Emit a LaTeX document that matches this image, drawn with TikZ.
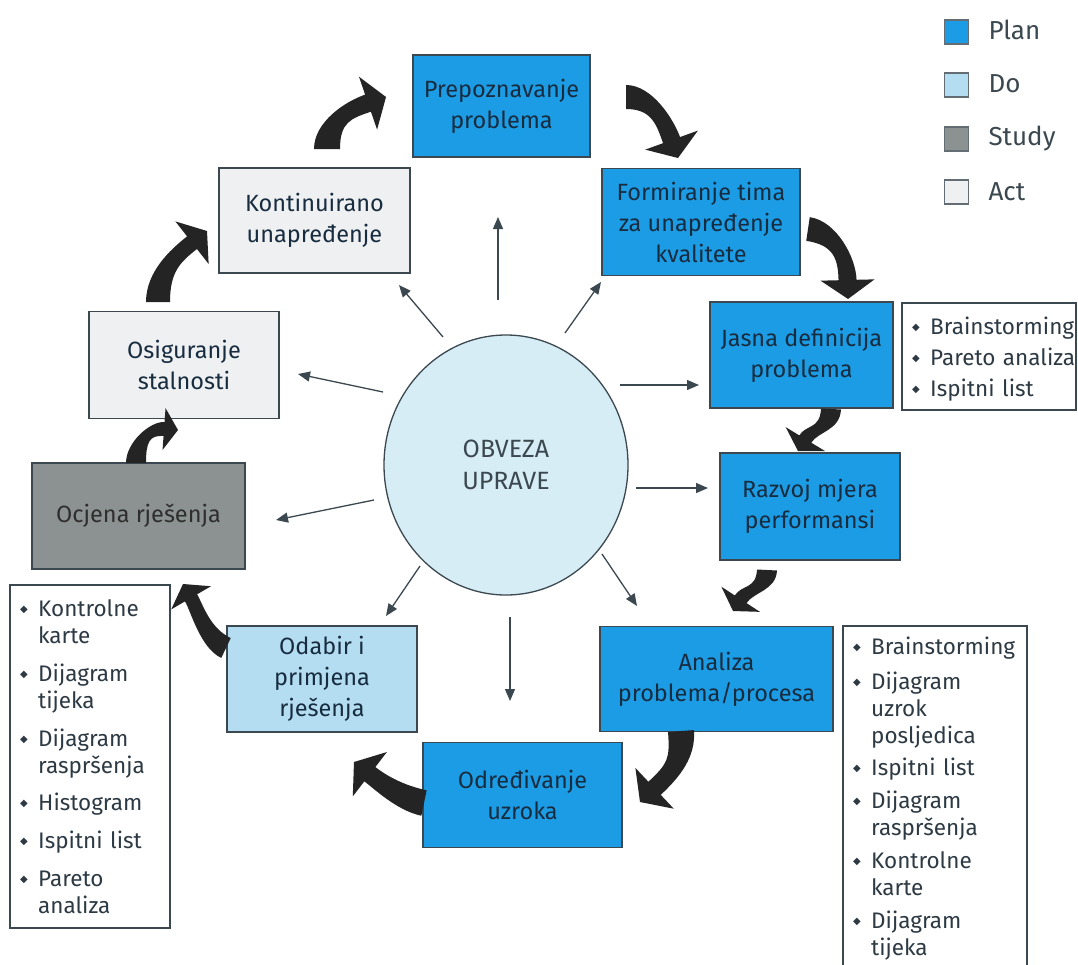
\documentclass[tikz,border=0pt]{standalone}
\usepackage{fontspec}
\setmainfont{Fira Sans}
\newfontfamily\dejavu{DejaVu Sans}
\usetikzlibrary{arrows.meta,shapes.geometric,calc}
\definecolor{planc}{RGB}{28,156,228}
\definecolor{doc}{RGB}{180,221,241}
\definecolor{studyc}{RGB}{140,145,145}
\definecolor{actc}{RGB}{238,240,242}
\definecolor{ellc}{RGB}{214,237,246}
\definecolor{bordc}{RGB}{60,72,80}
\definecolor{txtc}{RGB}{24,44,64}
\definecolor{thickc}{RGB}{36,36,36}
\definecolor{listtxt}{RGB}{45,58,68}
\newcommand{\litem}[1]{\par\noindent\hangindent=18pt\hangafter=1\makebox[18pt][l]{\raisebox{4pt}{\dejavu\fontsize{10}{10}\selectfont ◆}}#1\par}
% tapered thick arrow: #1 start, #2 ctrl1, #3 ctrl2, #4 tip, #5 half base width, #6 half end width, #7 half head width, #8 head length
\newcommand{\tarrow}[8]{%
 \coordinate (tH) at ($(#4)!#8!(#3)$);
 \coordinate (tSl) at ($(#1)!#5!90:(#2)$);
 \coordinate (tSr) at ($(#1)!#5!-90:(#2)$);
 \coordinate (tHl) at ($(tH)!#6!-90:(#3)$);
 \coordinate (tHr) at ($(tH)!#6!90:(#3)$);
 \coordinate (tWl) at ($(tH)!#7!-90:(#3)$);
 \coordinate (tWr) at ($(tH)!#7!90:(#3)$);
 \fill[thickc] (tSl) .. controls ($(#2)+(tSl)-(#1)$) and ($(#3)+(tHl)-(tH)$) .. (tHl) -- (tWl) -- (#4) -- (tWr) -- (tHr) .. controls ($(#3)+(tHr)-(tH)$) and ($(#2)+(tSr)-(#1)$) .. (tSr) -- cycle;
}
\tikzset{
  stepbox/.style={draw=bordc, line width=1.2pt, text=txtc, align=center, font=\fontsize{23.5}{31}\selectfont, inner sep=0pt},
  plan/.style={stepbox, fill=planc},
  dobox/.style={stepbox, fill=doc},
  study/.style={stepbox, fill=studyc, text=black!82},
  act/.style={stepbox, fill=actc},
  legsq/.style={draw=bordc!80, line width=1.8pt, minimum size=24pt, inner sep=0pt},
  legtxt/.style={anchor=west, text=bordc, font=\fontsize{26}{28}\selectfont},
  thin/.style={draw=bordc, line width=1.3pt, -{Triangle[length=12pt,width=10pt]}},
  listbox/.style={draw=bordc, line width=1.2pt, inner sep=0pt},
  listtext/.style={anchor=north west, inner sep=0pt, text=listtxt, font=\fontsize{22.5}{27}\selectfont},
}
\begin{document}
\begin{tikzpicture}[x=1pt,y=-1pt]
\useasboundingbox[fill=white] (0,0) rectangle (1078,964);

% legend
\node[legsq, fill=planc] (lp) at (956.5,32) {};
\node[legsq, fill=doc] (ld) at (956.5,85) {};
\node[legsq, fill=studyc] (ls) at (956.5,139) {};
\node[legsq, fill=actc] (la) at (956.5,192) {};
\node[legtxt] (lpt) at (985,30) {Plan};
\node[legtxt] (ldt) at (985,84) {Do};
\node[legtxt] (lst) at (985,139) {Study};
\node[legtxt] (lat) at (985,192) {Act};

% central ellipse
\node[ellipse, draw=bordc, line width=1.3pt, fill=ellc, minimum width=244pt, minimum height=260pt, align=center, text=bordc, font=\fontsize{25}{32}\selectfont] (obv) at (506,465) {OBVEZA\\UPRAVE};

% step boxes
\node[plan, minimum width=177pt, minimum height=102pt] (prep) at (501.5,106) {Prepoznavanje\\problema};
\node[plan, minimum width=198pt, minimum height=107pt] (form) at (701,222) {Formiranje tima\\za unapređenje\\kvalitete};
\node[plan, minimum width=183pt, minimum height=106pt] (jasna) at (801.5,355) {Jasna definicija\\problema};
\node[plan, minimum width=180pt, minimum height=107pt] (razvoj) at (810,506.5) {Razvoj mjera\\performansi};
\node[plan, minimum width=233pt, minimum height=105pt] (anal) at (716.5,679) {Analiza\\problema/procesa};
\node[plan, minimum width=199pt, minimum height=105pt] (odred) at (522.5,795) {Određivanje\\uzroka};
\node[dobox, minimum width=190pt, minimum height=106pt] (odab) at (322,679) {Odabir i\\primjena\\rješenja};
\node[study, minimum width=213pt, minimum height=106pt] (ocj) at (138.5,516) {Ocjena rješenja};
\node[act, minimum width=190pt, minimum height=107pt] (osig) at (184,365) {Osiguranje\\stalnosti};
\node[act, minimum width=191pt, minimum height=105pt] (kont) at (314.5,220.5) {Kontinuirano\\unapređenje};

% list boxes
\node[listbox, minimum width=174pt, minimum height=107pt] (jlist) at (989,356.5) {};
\node[listtext, text width=165pt] (jlistt) at (912,307) {%
\litem{Brainstorming}\vspace{4pt}
\litem{Pareto analiza}\vspace{4pt}
\litem{Ispitni list}};

\node[listbox, minimum width=184pt, minimum height=370pt] (rlist) at (935,811) {};
\node[listtext, text width=165pt] (rlistt) at (853,627) {%
\litem{Brainstorming}\vspace{8pt}
\litem{Dijagram\newline uzrok\newline posljedica}\vspace{5pt}
\litem{Ispitni list}\vspace{6pt}
\litem{Dijagram\newline raspršenja}\vspace{6pt}
\litem{Kontrolne\newline karte}\vspace{6pt}
\litem{Dijagram\newline tijeka}};

\node[listbox, minimum width=160pt, minimum height=343pt] (llist) at (90,756.5) {};
\node[listtext, text width=150pt] (llistt) at (20,589) {%
\litem{Kontrolne\newline karte}\vspace{11pt}
\litem{Dijagram\newline tijeka}\vspace{11pt}
\litem{Dijagram\newline raspršenja}\vspace{10pt}
\litem{Histogram}\vspace{11pt}
\litem{Ispitni list}\vspace{11pt}
\litem{Pareto\newline analiza}};

% thin arrow endpoints
\coordinate (u0) at (498,300); \coordinate (u1) at (498,217);
\coordinate (ur0) at (565,333); \coordinate (ur1) at (601,282);
\coordinate (r10) at (620,385); \coordinate (r11) at (699,385);
\coordinate (r20) at (636,488); \coordinate (r21) at (708,488);
\coordinate (dr0) at (602,554); \coordinate (dr1) at (637,606);
\coordinate (d0) at (510,617); \coordinate (d1) at (510,701);
\coordinate (dl0) at (420,566); \coordinate (dl1) at (386,616);
\coordinate (l10) at (374,500); \coordinate (l11) at (276,520);
\coordinate (l20) at (383,392); \coordinate (l21) at (298,374);
\coordinate (ul0) at (443,337); \coordinate (ul1) at (399,285);
\foreach \a in {u,ur,r1,r2,dr,d,dl,l1,l2,ul}{\draw[thin] (\a0) -- (\a1);}

% thick curved (tapered) arrows
\coordinate (A0) at (327,149); \coordinate (A1) at (386,97);
\tarrow{A0}{327,122}{348,110}{A1}{13pt}{9pt}{28pt}{19pt}
\coordinate (B0) at (626,97); \coordinate (B1) at (678,158);
\tarrow{B0}{652,97}{665,122}{B1}{12pt}{9pt}{28pt}{19pt}
\coordinate (C0) at (808,229); \coordinate (C1) at (848,299);
\tarrow{C0}{835,233}{847,258}{C1}{12pt}{9pt}{27pt}{19pt}
\coordinate (D0) at (831,409); \coordinate (D1) at (798,451);
\tarrow{D0}{830,430}{812,428}{D1}{10pt}{7pt}{23pt}{14pt}
\coordinate (E0) at (767,570); \coordinate (E1) at (733,611);
\tarrow{E0}{766,590}{748,588}{E1}{10pt}{7pt}{23pt}{14pt}
\coordinate (F0) at (681,731); \coordinate (F1) at (640,802);
\tarrow{F0}{683,758}{674,770}{F1}{13pt}{9pt}{28pt}{20pt}
\coordinate (G0) at (424,803); \coordinate (G1) at (354,762);
\tarrow{G0}{400,798}{380,782}{G1}{13pt}{9pt}{28pt}{20pt}
\coordinate (H0) at (226,648); \coordinate (H1) at (183,584);
\tarrow{H0}{205,638}{197,608}{H1}{11pt}{7pt}{23pt}{16pt}
\coordinate (I0) at (136,463); \coordinate (I1) at (178,430);
\tarrow{I0}{136,442}{150,428}{I1}{10pt}{7pt}{21pt}{14pt}
\coordinate (J0) at (158,302); \coordinate (J1) at (207,231);
\tarrow{J0}{158,272}{175,256}{J1}{12pt}{8pt}{27pt}{19pt}
\end{tikzpicture}
\end{document}
